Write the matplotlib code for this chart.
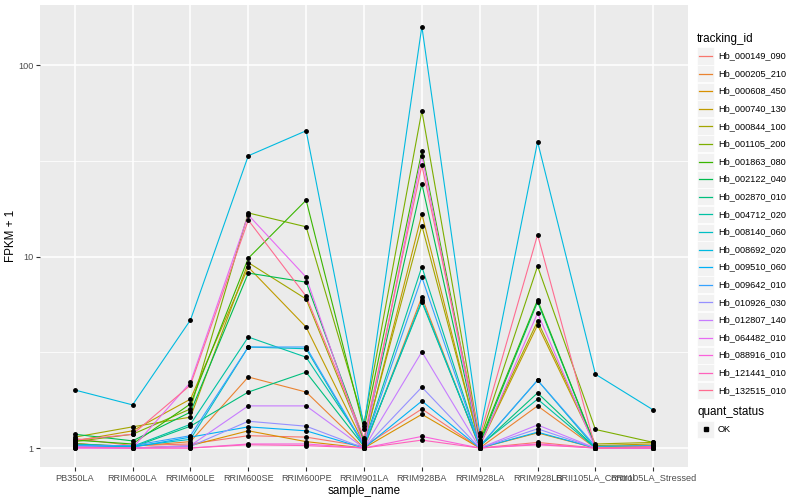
import matplotlib
matplotlib.use("Agg")
import matplotlib.pyplot as plt
from matplotlib.lines import Line2D
from matplotlib.patches import Rectangle

plt.rcParams["font.family"] = ["Liberation Sans", "DejaVu Sans"]

samples = [
    "PB350LA", "RRIM600LA", "RRIM600LE", "RRIM600SE", "RRIM600PE", "RRIM901LA",
    "RRIM928BA", "RRIM928LA", "RRIM928LB", "RRII105LA_Control", "RRII105LA_Stressed",
]

tracking_ids = [
    "Hb_000149_090", "Hb_000205_210", "Hb_000608_450", "Hb_000740_130",
    "Hb_000844_100", "Hb_001105_200", "Hb_001863_080", "Hb_002122_040",
    "Hb_002870_010", "Hb_004712_020", "Hb_008140_060", "Hb_008692_020",
    "Hb_009510_060", "Hb_009642_010", "Hb_010926_030", "Hb_012807_140",
    "Hb_064482_010", "Hb_088916_010", "Hb_121441_010", "Hb_132515_010",
]

# ggplot default hue palette for 20 groups
colors = [
    "#F8766D", "#EA8331", "#D89000", "#C09B00", "#A3A500", "#7CAE00",
    "#39B600", "#00BB4E", "#00BF7D", "#00C1A3", "#00BFC4", "#00BAE0",
    "#00B0F6", "#35A2FF", "#9590FF", "#C77CFF", "#E76BF3", "#FA62DB",
    "#FF62BC", "#FF6C91",
]

# FPKM + 1, one value per sample
hb_000149_090 = [1.12, 1.03, 1.05, 1.16, 1.14, 1.02, 1.6, 1.0, 1.07, 1.0, 1.02]
hb_000205_210 = [1.05, 1.02, 1.08, 2.35, 1.96, 1.0, 6.15, 1.0, 1.66, 1.0, 1.0]
hb_000608_450 = [1.06, 1.0, 1.03, 1.23, 1.08, 1.0, 1.5, 1.0, 1.2, 1.0, 1.0]
hb_000740_130 = [1.09, 1.23, 1.8, 8.8, 4.28, 1.05, 16.7, 1.03, 4.39, 1.03, 1.05]
hb_000844_100 = [1.14, 1.29, 1.45, 9.3, 6.0, 1.08, 14.5, 1.05, 4.6, 1.05, 1.07]
hb_001105_200 = [1.08, 1.18, 1.6, 16.9, 14.3, 1.35, 57.7, 1.1, 8.9, 1.25, 1.07]
hb_001863_080 = [1.1, 1.05, 1.7, 9.8, 19.7, 1.26, 35.5, 1.08, 5.93, 1.02, 1.03]
hb_002122_040 = [1.18, 1.09, 1.54, 8.2, 7.35, 1.1, 24.0, 1.05, 5.8, 1.02, 1.0]
hb_002870_010 = [1.03, 1.01, 1.3, 1.96, 2.49, 1.02, 5.8, 1.02, 1.94, 1.0, 1.0]
hb_004712_020 = [1.05, 1.02, 1.33, 3.8, 2.98, 1.05, 8.85, 1.03, 1.8, 1.0, 1.02]
hb_008140_060 = [1.04, 1.02, 1.11, 3.37, 3.3, 1.02, 5.9, 1.02, 2.26, 1.0, 1.0]
hb_008692_020 = [2.01, 1.68, 4.66, 33.6, 45.4, 1.3, 159.0, 1.2, 39.8, 2.43, 1.58]
hb_009510_060 = [1.02, 1.01, 1.14, 1.29, 1.23, 1.0, 1.76, 1.0, 1.21, 1.0, 1.0]
hb_009642_010 = [1.03, 1.03, 1.16, 3.37, 3.37, 1.03, 7.8, 1.02, 2.26, 1.02, 1.03]
hb_010926_030 = [1.02, 1.0, 1.02, 1.38, 1.3, 1.0, 2.08, 1.0, 1.26, 1.0, 1.0]
hb_012807_140 = [1.01, 1.0, 1.03, 1.66, 1.66, 1.0, 3.18, 1.0, 1.32, 1.0, 1.0]
hb_064482_010 = [1.0, 1.0, 2.2, 16.5, 7.8, 1.03, 33.6, 1.02, 5.07, 1.0, 1.0]
hb_088916_010 = [1.0, 1.0, 1.0, 1.05, 1.05, 1.0, 1.15, 1.0, 1.05, 1.0, 1.0]
hb_121441_010 = [1.01, 1.0, 1.0, 1.04, 1.03, 1.0, 1.1, 1.0, 1.04, 1.0, 1.0]
hb_132515_010 = [1.1, 1.18, 2.13, 15.5, 6.2, 1.13, 30.0, 1.15, 13.0, 1.0, 1.02]

series = [
    hb_000149_090, hb_000205_210, hb_000608_450, hb_000740_130, hb_000844_100,
    hb_001105_200, hb_001863_080, hb_002122_040, hb_002870_010, hb_004712_020,
    hb_008140_060, hb_008692_020, hb_009510_060, hb_009642_010, hb_010926_030,
    hb_012807_140, hb_064482_010, hb_088916_010, hb_121441_010, hb_132515_010,
]

W, H = 800, 500
fig = plt.figure(figsize=(8, 5), dpi=100)
ax = fig.add_axes([40 / W, 1 - 467 / H, 648 / W, 462 / H])
ax.set_facecolor("#EBEBEB")
for s in ax.spines.values():
    s.set_visible(False)

x = list(range(len(samples)))
for vals, c in zip(series, colors):
    ax.plot(x, vals, color=c, lw=0.8, zorder=3)
for vals in series:
    ax.plot(x, vals, ls="none", marker="o", ms=2.5, color="black", zorder=4)

ax.set_yscale("log")
ax.set_ylim(0.796, 206)
ax.set_xlim(-0.6, len(samples) - 0.4)
ax.set_yticks([1, 10, 100])
ax.set_yticklabels(["1", "10", "100"])
ax.set_yticks([10 ** 0.5, 10 ** 1.5], minor=True)
ax.set_yticklabels([], minor=True)
ax.set_xticks(x)
ax.set_xticklabels(samples)

ax.grid(True, which="major", color="white", lw=1.1, zorder=1)
ax.grid(True, which="minor", axis="y", color="white", lw=0.55, zorder=1)
ax.tick_params(axis="both", which="major", colors="#333333", length=2.7, width=0.8,
               labelsize=6.6, labelcolor="#4D4D4D", pad=2)
ax.tick_params(axis="y", which="minor", length=0)
ax.set_xlabel("sample_name", fontsize=8.4, labelpad=2)
ax.set_ylabel("FPKM + 1", fontsize=8.4, labelpad=1)

# legend drawn by hand, ggplot style
def px(xp, yp):
    return xp / W, 1 - yp / H

fig.text(*px(697, 39), "tracking_id", fontsize=8.4, va="center", ha="left")
for i, (name, c) in enumerate(zip(tracking_ids, colors)):
    yc = 56 + i * 17.6
    x0, y0 = px(697, yc + 8.5)
    fig.add_artist(Rectangle((x0, y0), 17 / W, 17 / H, transform=fig.transFigure,
                             facecolor="#F2F2F2", edgecolor="white", lw=0.5))
    xa, ya = px(699, yc)
    xb, _ = px(712, yc)
    fig.add_artist(Line2D([xa, xb], [ya, ya], transform=fig.transFigure, color=c, lw=0.9))
    fig.text(*px(718, yc), name, fontsize=6.6, va="center", ha="left")

fig.text(*px(697, 412), "quant_status", fontsize=8.4, va="center", ha="left")
x0, y0 = px(697, 429 + 8.5)
fig.add_artist(Rectangle((x0, y0), 17 / W, 17 / H, transform=fig.transFigure,
                         facecolor="#F2F2F2", edgecolor="white", lw=0.5))
xm, ym = px(705.5, 429)
fig.add_artist(Line2D([xm], [ym], transform=fig.transFigure, ls="none", marker="s",
                      ms=2.3, color="black"))
fig.text(*px(718, 429), "OK", fontsize=6.6, va="center", ha="left")

fig.savefig("out.png", dpi=100)
